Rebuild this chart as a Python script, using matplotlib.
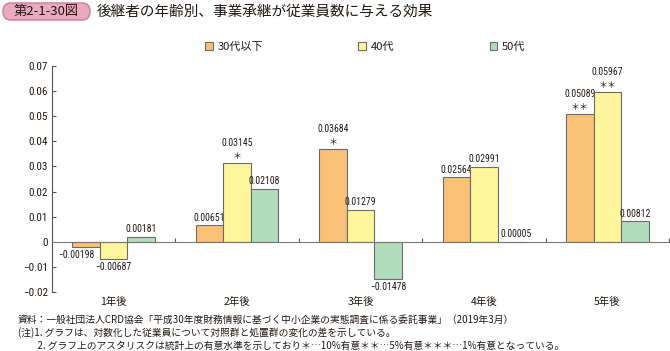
import matplotlib
matplotlib.use('Agg')
import matplotlib.pyplot as plt
import numpy as np
from matplotlib.patches import FancyBboxPatch
from matplotlib import font_manager as fm
import matplotlib.transforms as mtrans

# ---------------- data ----------------
categories = ['1年後', '2年後', '3年後', '4年後', '5年後']
series_names = ['30代以下', '40代', '50代']
v30 = [-0.00198, 0.00651, 0.03684, 0.02564, 0.05089]
v40 = [-0.00687, 0.03145, 0.01279, 0.02991, 0.05967]
v50 = [0.00181, 0.02108, -0.01478, 0.00005, 0.00812]
lab30 = ['−0.00198', '0.00651', '0.03684', '0.02564', '0.05089']
lab40 = ['−0.00687', '0.03145', '0.01279', '0.02991', '0.05967']
lab50 = ['0.00181', '0.02108', '−0.01478', '0.00005', '0.00812']
sig30 = ['', '', '*', '', '**']
sig40 = ['', '*', '', '', '**']
sig50 = ['', '', '', '', '']
yticks = [-0.02, -0.01, 0, 0.01, 0.02, 0.03, 0.04, 0.05, 0.06, 0.07]
ytick_labels = ['−0.02', '−0.01', '0', '0.01', '0.02', '0.03', '0.04', '0.05', '0.06', '0.07']
title_tag = '第2-1-30図'
title_text = '後継者の年齢別、事業承継が従業員数に与える効果'
notes = [
    '資料：一般社団法人CRD協会「平成30年度財務情報に基づく中小企業の実態調査に係る委託事業」（2019年3月）',
    '(注)1. グラフは、対数化した従業員について対照群と処置群の変化の差を示している。',
    '　　2. グラフ上のアスタリスクは統計上の有意水準を示しており＊…10%有意＊＊…5%有意＊＊＊…1%有意となっている。',
]

colors = ['#F9C176', '#FFF59A', '#B2DDBC']
edge = '#6b6b6b'
txt = '#231815'

avail = {f.name for f in fm.fontManager.ttflist}
cjk = 'Noto Sans CJK JP'
num_font = [f for f in ['Liberation Sans Narrow', 'Roboto Condensed'] if f in avail] + [cjk, 'DejaVu Sans']
plt.rcParams['font.family'] = [cjk, 'DejaVu Sans']

fig = plt.figure(figsize=(6.7, 3.51), dpi=100)
W, H = 670, 351
ax = fig.add_axes([52 / W, 1 - 292 / H, (669 - 52) / W, (292 - 66) / H])

x = np.arange(len(categories))
bw = 0.223
series = [(v30, lab30, sig30), (v40, lab40, sig40), (v50, lab50, sig50)]
offsets = [-bw, 0, bw]
for k, ((vals, labs, sigs), off) in enumerate(zip(series, offsets)):
    bars = ax.bar(x + off, vals, width=bw, color=colors[k], edgecolor=edge,
                  linewidth=0.8, label=series_names[k], zorder=3)
    for i, (b, v, lab, s) in enumerate(zip(bars, vals, labs, sigs)):
        cx = b.get_x() + b.get_width() / 2
        dx = 0
        if v < 0 and k == 0:
            dx = -7
        if abs(v) < 0.0002:
            dx = 5
        if v >= 0:
            if s:
                ax.annotate(s.replace('*', '＊'), (cx, v), xytext=(0, 1.5), textcoords='offset points',
                            ha='center', va='bottom', fontsize=6.5, color=txt, family=[cjk])
                ax.annotate(lab, (cx, v), xytext=(0, 11), textcoords='offset points',
                            ha='center', va='bottom', fontsize=7, color=txt, family=num_font)
            else:
                ax.annotate(lab, (cx + dx / 123.4, v), xytext=(0, 2), textcoords='offset points',
                            ha='center', va='bottom', fontsize=7, color=txt, family=num_font)
        else:
            ax.annotate(lab, (cx, v), xytext=(dx, -2), textcoords='offset points',
                        ha='center', va='top', fontsize=7, color=txt, family=num_font)

ax.set_xlim(-0.5, len(categories) - 0.5)
ax.set_ylim(-0.02, 0.07)
ax.set_yticks(yticks)
ax.set_yticklabels(ytick_labels, family=num_font, fontsize=8, color=txt)
ax.tick_params(axis='y', direction='in', length=3, width=0.8, color='#555555', pad=3)

for s in ['top', 'right']:
    ax.spines[s].set_visible(False)
ax.spines['left'].set_color('#555555')
ax.spines['left'].set_linewidth(0.8)
ax.spines['bottom'].set_position(('data', 0))
ax.spines['bottom'].set_color('#777777')
ax.spines['bottom'].set_linewidth(0.8)
ax.set_xticks(np.arange(len(categories) + 1) - 0.5)
ax.set_xticklabels([])
ax.tick_params(axis='x', direction='in', length=3, width=0.8, color='#555555')
ax.spines['bottom'].set_zorder(4)

trans = mtrans.blended_transform_factory(ax.transData, ax.transAxes)
for i, c in enumerate(categories):
    ax.text(i, -0.045, c, transform=trans, ha='center', va='center', fontsize=7.5, color=txt)

# legend
leg = fig.legend(loc='center left', bbox_to_anchor=(205 / W, 1 - 47 / H), ncol=3,
                 frameon=False, fontsize=8, handlelength=0.7, handleheight=0.7,
                 handletextpad=0.4, columnspacing=8.6, borderaxespad=0, borderpad=0)
for t in leg.get_texts():
    t.set_color(txt)

# title
box = FancyBboxPatch((3 / W, 1 - 20 / H), 87 / W, 17 / H,
                     boxstyle='round,pad=0,rounding_size=0.012',
                     transform=fig.transFigure, facecolor='#E9A9BF', edgecolor='#D3799A',
                     linewidth=1.0, mutation_aspect=W / H)
fig.patches.append(box)
fig.text(46 / W, 1 - 11.5 / H, title_tag, ha='center', va='center', fontsize=9.5, color=txt)
fig.text(97 / W, 1 - 11.5 / H, title_text, ha='left', va='center', fontsize=10.5, color=txt)

ys = [320, 333, 346]
for yy, n in zip(ys, notes):
    fig.text(18 / W, 1 - yy / H, n, ha='left', va='center', fontsize=7, color=txt)

fig.savefig('out.png', dpi=100)
